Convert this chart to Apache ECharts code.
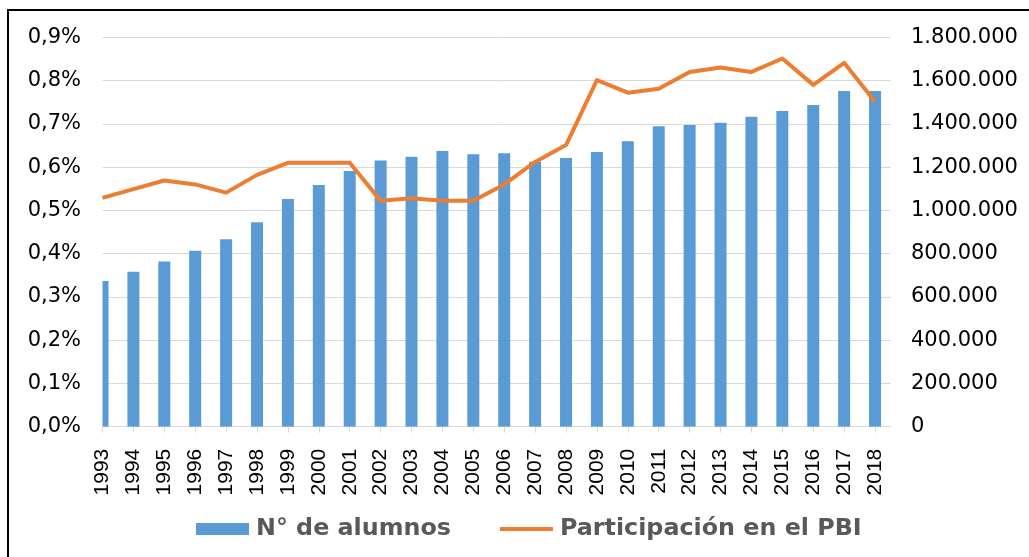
<!DOCTYPE html>
<html>
<head>
<meta charset="utf-8">
<script src="https://cdn.jsdelivr.net/npm/echarts@6/dist/echarts.min.js"></script>
<style>
html,body{margin:0;padding:0;background:#fff;}
#chart{width:1029px;height:557px;}
</style>
</head>
<body>
<div id="chart"></div>
<script>
const years = [1993,1994,1995,1996,1997,1998,1999,2000,2001,2002,2003,2004,2005,2006,2007,2008,2009,2010,2011,2012,2013,2014,2015,2016,2017,2018];
const alumnos = [673000,716000,764000,813000,867000,945000,1052000,1117000,1182000,1231000,1248000,1274000,1259000,1264000,1225000,1242000,1270000,1319000,1389000,1395000,1405000,1433000,1459000,1487000,1552000,1552000];
const pbi = [0.529,0.549,0.569,0.560,0.541,0.582,0.610,0.610,0.610,0.522,0.528,0.522,0.522,0.560,0.612,0.651,0.801,0.772,0.781,0.820,0.830,0.820,0.851,0.790,0.841,0.751];
const seriesNames = ['N° de alumnos', 'Participación en el PBI'];

const BAR_COLOR = '#5B9BD5';
const LINE_COLOR = '#ED7D31';
const BAR_WIDTH = 12;

const chart = echarts.init(document.getElementById('chart'), null, {renderer: 'canvas'});
const fmtThousands = v => String(Math.round(v)).replace(/\B(?=(\d{3})+(?!\d))/g, '.');

function renderBar(params, api) {
  const x = api.value(0);
  const top = api.coord([x, api.value(1)]);
  const base = api.coord([x, 0]);
  const rect = echarts.graphic.clipRectByRect({
    x: top[0] - BAR_WIDTH / 2,
    y: top[1],
    width: BAR_WIDTH,
    height: base[1] - top[1]
  }, {
    x: params.coordSys.x, y: params.coordSys.y,
    width: params.coordSys.width, height: params.coordSys.height
  });
  return rect && {type: 'rect', shape: rect, style: {fill: BAR_COLOR}};
}

chart.setOption({
  animation: false,
  backgroundColor: '#fff',
  graphic: [{
    type: 'rect',
    shape: {x: 8, y: 10, width: 1200, height: 700},
    style: {fill: 'none', stroke: '#000', lineWidth: 2},
    silent: true
  }],
  grid: {left: 102.5, right: 138.5, top: 37.3, bottom: 130.3, containLabel: false},
  legend: {
    left: 191, top: 510,
    itemWidth: 53, itemHeight: 12, itemGap: 47,
    textStyle: {fontFamily: 'DejaVu Sans', fontWeight: 'bold', fontSize: 23.8, color: '#595959', lineHeight: 28, padding: [0,0,0,2]},
    data: [
      {name: seriesNames[0], icon: 'rect', itemStyle: {color: BAR_COLOR}},
      {name: seriesNames[1], itemStyle: {opacity: 0}, lineStyle: {width: 4, color: LINE_COLOR}}
    ]
  },
  xAxis: {
    type: 'value', min: 1993, max: 2018.5,
    axisLine: {show: true, lineStyle: {color: '#D9D9D9', width: 1}},
    axisTick: {show: true, length: 6, customValues: years, lineStyle: {color: '#D9D9D9'}},
    axisLabel: {show: true, rotate: 90, margin: 22, customValues: years, fontFamily: 'Liberation Sans', fontSize: 21, color: '#000', formatter: v => String(v)},
    splitLine: {show: false}
  },
  yAxis: [{
    type: 'value', min: 0, max: 0.9, interval: 0.1, position: 'left',
    axisLine: {show: false}, axisTick: {show: false},
    axisLabel: {margin: 21.5, fontFamily: 'DejaVu Sans', fontSize: 21, color: '#000', formatter: v => v.toFixed(1).replace('.', ',') + '%'},
    splitLine: {show: true, lineStyle: {color: '#D9D9D9', width: 1}}
  }, {
    type: 'value', min: 0, max: 1800000, interval: 200000, position: 'right',
    axisLine: {show: false}, axisTick: {show: false},
    axisLabel: {margin: 20.5, fontFamily: 'DejaVu Sans', fontSize: 21, color: '#000', formatter: fmtThousands},
    splitLine: {show: false}
  }],
  series: [{
    name: seriesNames[0], type: 'custom', yAxisIndex: 1,
    renderItem: renderBar,
    clip: true,
    itemStyle: {color: BAR_COLOR},
    encode: {x: 0, y: 1},
    data: years.map((y, i) => [y, alumnos[i]]),
    z: 2
  }, {
    name: seriesNames[1], type: 'line', yAxisIndex: 0,
    symbol: 'none', showSymbol: false, clip: true,
    lineStyle: {color: LINE_COLOR, width: 4, cap: 'butt', join: 'round'},
    itemStyle: {color: LINE_COLOR},
    data: years.map((y, i) => [y, pbi[i]]),
    z: 3
  }]
});
</script>
</body>
</html>
